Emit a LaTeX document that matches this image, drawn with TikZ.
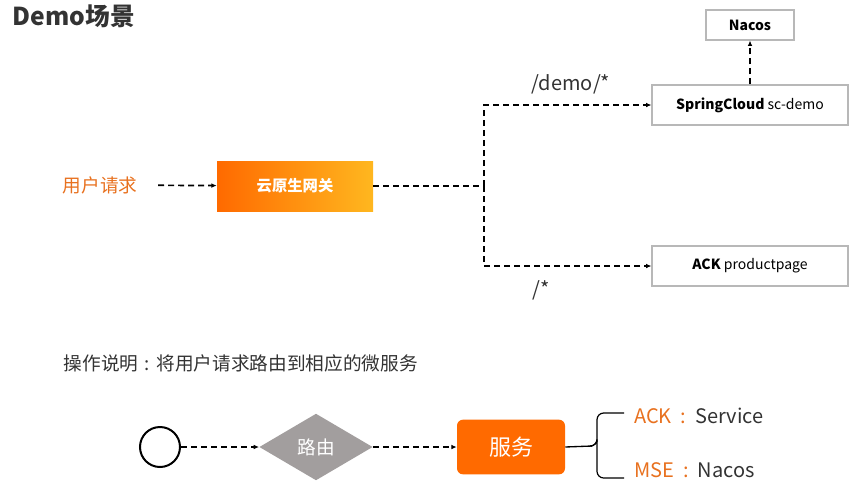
\documentclass[tikz,border=0pt]{standalone}
\usepackage{fontspec}
\setmainfont{Noto Sans CJK SC}
\usepackage{xcolor}
\usetikzlibrary{shapes.geometric, arrows.meta, positioning, calc}
\definecolor{aliorange}{HTML}{FF6A00}
\definecolor{aliyellow}{HTML}{FFB71F}
\definecolor{reqorange}{HTML}{E8711F}
\definecolor{txtgray}{HTML}{333333}
\definecolor{boxgray}{HTML}{B8B8B8}
\definecolor{diagray}{HTML}{A29E9E}

\begin{document}
\begin{tikzpicture}[
    x=0.75pt, y=-0.75pt,
    svcbox/.style={rectangle, draw=boxgray, line width=0.8pt, minimum width=147pt, minimum height=30pt, font=\fontsize{10.5}{12}\selectfont, text=black},
    gateway/.style={rectangle, left color=aliorange, right color=aliyellow, minimum width=117pt, minimum height=37.5pt, text=white, font=\fontsize{11.5}{13}\selectfont\bfseries},
    decision/.style={diamond, fill=diagray, minimum width=85pt, minimum height=50pt, inner sep=0pt, text=white, font=\fontsize{14}{16}\selectfont},
    service/.style={rectangle, rounded corners=4.5pt, fill=aliorange, minimum width=81pt, minimum height=41pt, text=white, font=\fontsize{16.5}{18}\selectfont},
    arrow/.style={-{Latex[length=4pt,width=3.5pt]}, line width=1.25pt, dash pattern=on 4.5pt off 3pt},
    link/.style={line width=1.25pt, dash pattern=on 4.5pt off 3pt},
]
\useasboundingbox (0,0) rectangle (865,494);

% Nodes
\node [anchor=west, font=\fontsize{18.5}{20}\selectfont\bfseries, text=txtgray] (title) at (8,16) {Demo场景};
\node [font=\fontsize{14}{16}\selectfont, text=reqorange] (req) at (100,185) {用户请求};
\node [gateway] (gw) at (295,186) {云原生网关};
\coordinate (split) at (484,186);
\node [svcbox] (sc) at (750,105) {\textbf{SpringCloud} sc-demo};
\node [svcbox, minimum width=66pt, minimum height=22.5pt] (nacos) at (750,25) {\textbf{Nacos}};
\node [svcbox] (ack) at (750,266) {\textbf{ACK} productpage};
\node [font=\fontsize{15}{17}\selectfont, text=txtgray] (demopath) at (571,84) {/demo/*};
\node [font=\fontsize{15}{17}\selectfont, text=txtgray] (allpath) at (541,290) {/*};

\node [anchor=west, font=\fontsize{14}{16}\selectfont, text=txtgray] (note) at (59,363) {操作说明\hspace{0.35em}:\hspace{0.35em}将用户请求路由到相应的微服务};
\node [circle, draw=black, line width=1.5pt, minimum size=30pt, inner sep=0pt] (start) at (160,447) {};
\node [decision] (route) at (316,447) {路由};
\node [service] (svc) at (511,447) {服务};
\coordinate (brace) at (597,446);
\coordinate (ackend) at (624,413);
\coordinate (mseend) at (624,478);
\node [anchor=west, font=\fontsize{15}{17}\selectfont, text=txtgray, inner sep=0pt] (ackitem) at (634,416) {\textcolor{reqorange}{ACK\hspace{0.45em}:}\hspace{0.45em}Service};
\node [anchor=west, font=\fontsize{15}{17}\selectfont, text=txtgray, inner sep=0pt] (mseitem) at (634,470) {\textcolor{reqorange}{MSE\hspace{0.45em}:}\hspace{0.45em}Nacos};

% Arcs/Paths
\draw [arrow, shorten <=12pt] (req) -- (gw);
\draw [link] (gw) -- (split);
\draw [arrow] (split) |- (sc);
\draw [arrow] (split) |- (ack);
\draw [arrow] (sc) -- (nacos);
\draw [arrow] (start) -- (route);
\draw [arrow] (route) -- (svc);

% brace to the two items
\draw [line width=1pt] (svc.east) -- ($(brace)+(-5,0)$);
\draw [line width=0.9pt, rounded corners=5pt] ($(brace)+(-5,0)$) -| (brace) |- (ackend);
\draw [line width=0.9pt, rounded corners=5pt] ($(brace)+(-5,0)$) -| (brace) |- (mseend);

\end{tikzpicture}
\end{document}
